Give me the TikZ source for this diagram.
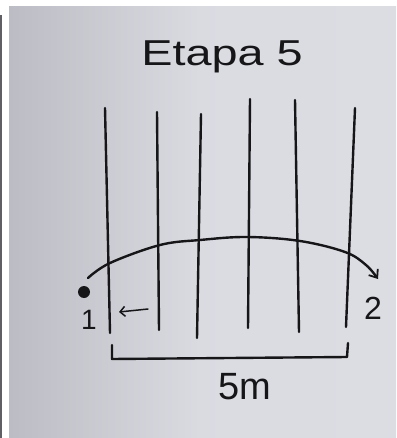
\documentclass[tikz,border=0pt]{standalone}
\usepackage{fontspec}
\setmainfont{Liberation Sans}
\usetikzlibrary{arrows.meta}
\definecolor{paperL}{RGB}{188,189,196}
\definecolor{paperR}{RGB}{220,221,227}
\definecolor{ink}{RGB}{22,22,25}
\definecolor{edge}{RGB}{95,95,100}
\tikzset{
  pen/.style={draw=ink, line width=2.4pt, line cap=round, line join=round},
  hand/.style={text=ink, inner sep=0pt},
  barb/.style={-{Straight Barb[length=7pt,width=11pt,line width=1.8pt]}}
}
\begin{document}
\begin{tikzpicture}[x=1pt,y=-1pt]
\useasboundingbox (0,0) rectangle (396,438);
\fill[white] (0,0) rectangle (396,438);
\fill[edge] (0,15) rectangle (2,438);
\shade[left color=paperL, right color=paperR, middle color=paperR!95!paperL] (9,7) rectangle (396,438);
% title
\node[hand, font=\fontsize{36}{40}\selectfont, xscale=1.3] (title) at (222,57) {Etapa 5};
% vertical lines
\coordinate (t1) at (105,108); \coordinate (b1) at (110,333);
\coordinate (t2) at (157,112); \coordinate (b2) at (159,330);
\coordinate (t3) at (201,114); \coordinate (b3) at (197,338);
\coordinate (t4) at (250,99);  \coordinate (b4) at (248,328);
\coordinate (t5) at (295,100); \coordinate (b5) at (299,332);
\coordinate (t6) at (355,108); \coordinate (b6) at (346,327);
\foreach \i in {1,...,6} \draw[pen] (t\i) -- (b\i);
% arc with arrow
\draw[pen, barb] plot[smooth, tension=0.6] coordinates {(88,278) (110,263) (160,245) (200,240) (247,237) (300,241) (345,252) (366,265) (378,279)};
% start dot
\node[circle, fill=ink, minimum size=12pt, inner sep=0pt, outer sep=0pt] (dot) at (84,292) {};
\node[hand, font=\fontsize{28}{32}\selectfont] (one) at (89,320) {1};
\node[hand, font=\fontsize{32}{36}\selectfont] (two) at (373,308) {2};
% small arrow
\coordinate (sa) at (148,309); \coordinate (sb) at (119,312);
\draw[draw=ink, line width=1.5pt, line cap=round, -{Straight Barb[length=5pt,width=10pt,line width=1.5pt]}] (sa) -- (sb);
% bracket
\coordinate (k1) at (112,345); \coordinate (k2) at (112,359);
\coordinate (k3) at (347,357); \coordinate (k4) at (348,343);
\draw[pen] (k1) -- (k2) -- (k3) -- (k4);
\node[hand, font=\fontsize{38}{42}\selectfont] (len) at (245,387) {5m};
\end{tikzpicture}
\end{document}
